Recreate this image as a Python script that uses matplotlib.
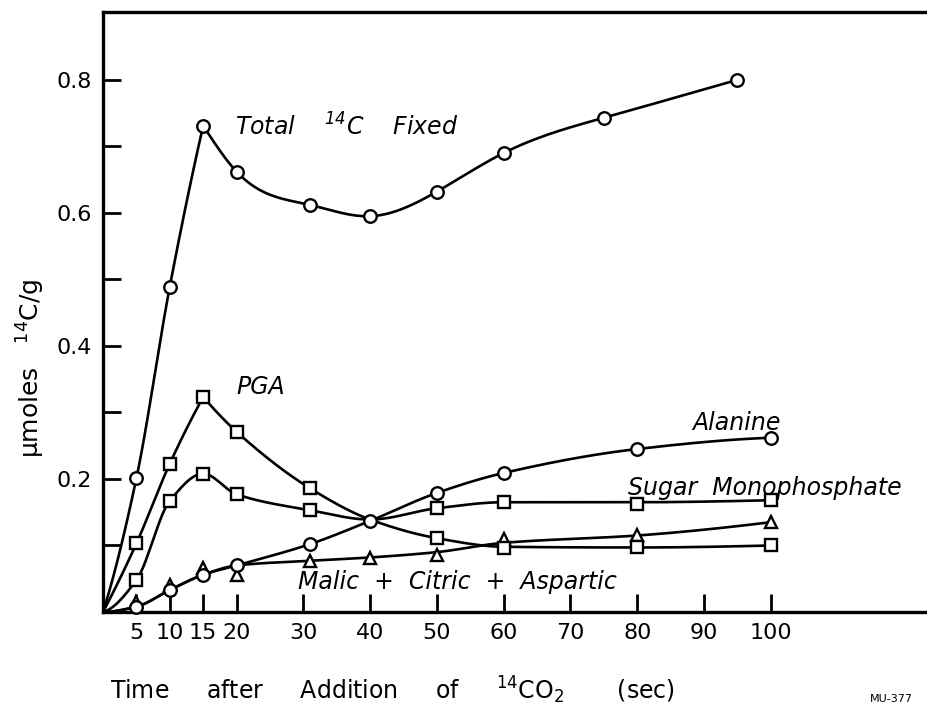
import numpy as np
import matplotlib
matplotlib.use("Agg")
import matplotlib.pyplot as plt

plt.rcParams['font.family'] = ['DejaVu Sans']
plt.rcParams['mathtext.default'] = 'regular'

# marker data (time in sec, umoles 14C/g)
total_x = [5, 10, 15, 20, 31, 40, 50, 60, 75, 95]
total_y = [0.201, 0.489, 0.731, 0.662, 0.612, 0.595, 0.632, 0.690, 0.743, 0.800]

pga_x = [5, 10, 15, 20, 31, 50, 60, 80, 100]
pga_y = [0.103, 0.223, 0.323, 0.271, 0.186, 0.111, 0.096, 0.097, 0.100]

sugar_x = [5, 10, 15, 20, 31, 50, 60, 80, 100]
sugar_y = [0.048, 0.167, 0.208, 0.177, 0.153, 0.156, 0.165, 0.163, 0.168]

alanine_x = [5, 10, 15, 20, 31, 40, 50, 60, 80, 100]
alanine_y = [0.008, 0.033, 0.056, 0.070, 0.102, 0.137, 0.179, 0.209, 0.245, 0.262]

malic_x = [5, 10, 15, 20, 31, 40, 50, 60, 80, 100]
malic_y = [0.015, 0.040, 0.066, 0.056, 0.077, 0.081, 0.086, 0.110, 0.116, 0.135]

# hand drawn curves (knots, all start at origin)
total_cx = [0, 5, 10, 15, 20, 31, 40, 50, 60, 75, 95]
total_cy = [0, 0.201, 0.489, 0.731, 0.662, 0.612, 0.595, 0.632, 0.690, 0.743, 0.800]
pga_cx = [0, 5, 10, 15, 20, 31, 40, 50, 60, 80, 100]
pga_cy = [0, 0.103, 0.223, 0.323, 0.271, 0.186, 0.139, 0.111, 0.098, 0.097, 0.100]
sugar_cx = [0, 5, 10, 15, 20, 31, 40, 50, 60, 80, 100]
sugar_cy = [0, 0.048, 0.167, 0.208, 0.177, 0.153, 0.139, 0.156, 0.165, 0.165, 0.168]
alanine_cx = [0] + alanine_x
alanine_cy = [0] + alanine_y
malic_cx = [0, 5, 10, 15, 20, 31, 40, 50, 60, 80, 100]
malic_cy = [0, 0.008, 0.033, 0.056, 0.070, 0.077, 0.082, 0.090, 0.104, 0.115, 0.135]

xticks = [5, 10, 15, 20, 30, 40, 50, 60, 70, 80, 90, 100]
yticks = [0.1, 0.2, 0.3, 0.4, 0.5, 0.6, 0.7, 0.8]
ylabels = ['', '0.2', '', '0.4', '', '0.6', '', '0.8']


def pchip(x, y, xn):
    x = np.asarray(x, float)
    y = np.asarray(y, float)
    h = np.diff(x)
    d = np.diff(y) / h
    n = len(x)
    m = np.zeros(n)
    if n == 2:
        m[:] = d[0]
    else:
        for k in range(1, n - 1):
            if d[k - 1] * d[k] > 0:
                w1 = 2 * h[k] + h[k - 1]
                w2 = h[k] + 2 * h[k - 1]
                m[k] = (w1 + w2) / (w1 / d[k - 1] + w2 / d[k])
        for i, (h0, h1, d0, d1) in ((0, (h[0], h[1], d[0], d[1])),
                                    (n - 1, (h[-1], h[-2], d[-1], d[-2]))):
            v = ((2 * h0 + h1) * d0 - h0 * d1) / (h0 + h1)
            if np.sign(v) != np.sign(d0):
                v = 0
            elif np.sign(d0) != np.sign(d1) and abs(v) > abs(3 * d0):
                v = 3 * d0
            m[i] = v
    return hermite(x, y, m, xn)


def hermite(x, y, m, xn):
    h = np.diff(x)
    idx = np.clip(np.searchsorted(x, xn) - 1, 0, len(x) - 2)
    t = (xn - x[idx]) / h[idx]
    h00 = 2 * t**3 - 3 * t**2 + 1
    h10 = t**3 - 2 * t**2 + t
    h01 = -2 * t**3 + 3 * t**2
    h11 = t**3 - t**2
    return h00 * y[idx] + h10 * h[idx] * m[idx] + h01 * y[idx + 1] + h11 * h[idx] * m[idx + 1]


def natural(x, y, xn):
    # natural cubic spline
    x = np.asarray(x, float)
    y = np.asarray(y, float)
    n = len(x)
    h = np.diff(x)
    A = np.zeros((n, n))
    r = np.zeros(n)
    A[0, 0] = A[-1, -1] = 1
    for i in range(1, n - 1):
        A[i, i - 1] = h[i - 1]
        A[i, i] = 2 * (h[i - 1] + h[i])
        A[i, i + 1] = h[i]
        r[i] = 3 * ((y[i + 1] - y[i]) / h[i] - (y[i] - y[i - 1]) / h[i - 1])
    c = np.linalg.solve(A, r)
    m = np.zeros(n)
    for i in range(n - 1):
        m[i] = (y[i + 1] - y[i]) / h[i] - h[i] * (2 * c[i] + c[i + 1]) / 3
    m[-1] = (y[-1] - y[-2]) / h[-1] + h[-1] * (c[-2] + 2 * c[-1]) / 3
    return hermite(x, y, m, xn)


def curve(ax, cx, cy, split=None, smooth=pchip):
    # split = index of a sharp corner (curve drawn in two pieces)
    parts = [(cx, cy)] if split is None else [(cx[:split + 1], cy[:split + 1]), (cx[split:], cy[split:])]
    for j, (px, py) in enumerate(parts):
        xs = np.linspace(px[0], px[-1], 300)
        f = smooth if j == len(parts) - 1 else pchip
        ax.plot(xs, f(px, py, xs), color='black', lw=1.9, zorder=2)


fig = plt.figure(figsize=(9.27, 7.06), dpi=100)
ax = fig.add_axes([103 / 927, 94 / 706, 824 / 927, 600 / 706])

curve(ax, total_cx, total_cy, split=3, smooth=natural)
curve(ax, pga_cx, pga_cy, split=3)
curve(ax, sugar_cx, sugar_cy)
curve(ax, alanine_cx, alanine_cy)
curve(ax, malic_cx, malic_cy)

mk = dict(ls='none', mfc='white', mec='black', mew=1.7, zorder=3, clip_on=False)
ax.plot(malic_x, malic_y, marker='^', ms=8, **mk)
ax.plot(pga_x, pga_y, marker='s', ms=8, **mk)
ax.plot(sugar_x, sugar_y, marker='s', ms=8, **mk)
ax.plot(alanine_x, alanine_y, marker='o', ms=9, **mk)
ax.plot(total_x, total_y, marker='o', ms=9, **mk)

tfont = dict(fontsize=17, style='italic', color='black')
ax.text(19.8, 0.716, r'Total    $^{14}$C    Fixed', **tfont)
ax.text(19.9, 0.328, 'PGA', **tfont)
ax.text(88.2, 0.274, 'Alanine', **tfont)
ax.text(78.6, 0.176, 'Sugar  Monophosphate', **tfont)
ax.text(29.2, 0.034, 'Malic  +  Citric  +  Aspartic', **tfont)

ax.set_xlim(0, 123.4)
ax.set_ylim(0, 0.902)
ax.set_xticks(xticks)
ax.set_xticklabels([str(v) for v in xticks])
ax.set_yticks(yticks)
ax.set_yticklabels(ylabels)
ax.tick_params(direction='in', length=13, width=2, labelsize=16, pad=8, color='black')
ax.spines['right'].set_visible(False)
for s in ('left', 'bottom', 'top'):
    ax.spines[s].set_linewidth(2.4)

fig.text(110 / 927, 1 - 690 / 706, r'Time     after     Addition     of     $^{14}$CO$_2$       (sec)',
         fontsize=17, va='center', ha='left')
fig.text(31 / 927, 1 - 368 / 706, r'$\mu$moles   $^{14}$C/g', fontsize=18,
         rotation=90, va='center', ha='center')
fig.text(870 / 927, 0.003, 'MU-377', fontsize=8, va='bottom', ha='left')

fig.savefig('out.png', dpi=100)
